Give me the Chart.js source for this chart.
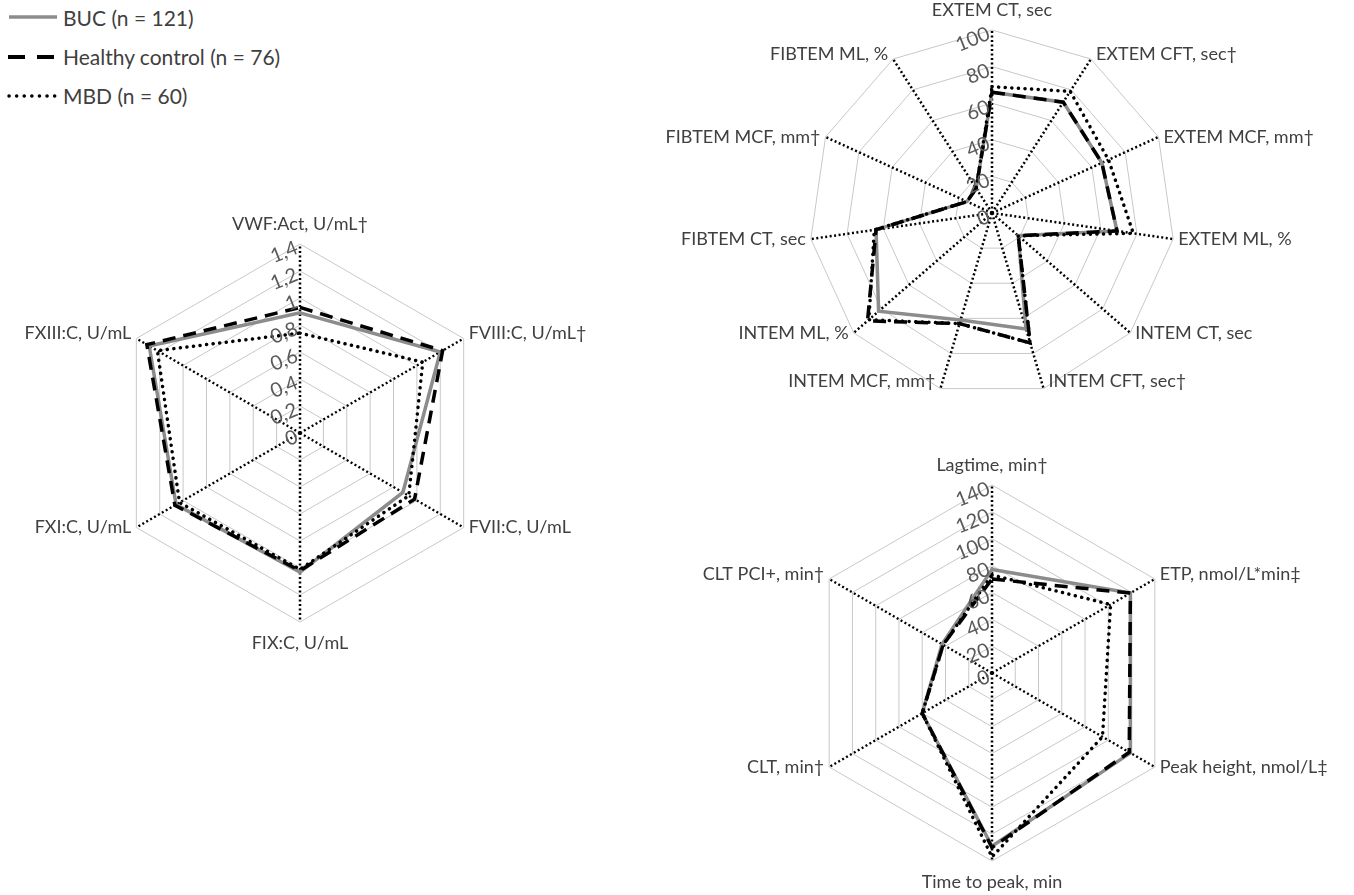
<!DOCTYPE html>
<html>
<head>
<meta charset="utf-8">
<script src="https://cdn.jsdelivr.net/npm/chart.js@4.4.1/dist/chart.umd.min.js"></script>
<style>
  html, body { margin: 0; padding: 0; background: #fff; }
  body { width: 1354px; height: 895px; position: relative; overflow: hidden; font-family: Lato, "Open Sans", sans-serif; }
  canvas { position: absolute; }
  .row { position: absolute; left: 0; height: 30px; white-space: nowrap; font-size: 21px; color: #404040; }
  .row svg { position: absolute; left: 0; top: 0; }
  .row span { position: absolute; left: 63px; top: 2px; }
</style>
</head>
<body>
<div class="row" style="top:3px">
  <svg width="60" height="30"><line x1="9" y1="14" x2="57" y2="14" stroke="#8c8c8c" stroke-width="3.5"/></svg>
  <span>BUC (n = 121)</span>
</div>
<div class="row" style="top:42px">
  <svg width="60" height="30"><line x1="8" y1="15" x2="57" y2="15" stroke="#000" stroke-width="4" stroke-dasharray="17 12"/></svg>
  <span>Healthy control (n = 76)</span>
</div>
<div class="row" style="top:81px">
  <svg width="60" height="30"><line x1="9" y1="15" x2="57" y2="15" stroke="#000" stroke-width="3.5" stroke-linecap="round" stroke-dasharray="0.1 7.5"/></svg>
  <span>MBD (n = 60)</span>
</div>

<canvas id="factorChart" width="620" height="620" style="left:0;top:140px"></canvas>
<canvas id="rotemChart" width="724" height="430" style="left:630px;top:0"></canvas>
<canvas id="tgChart" width="724" height="465" style="left:630px;top:430px"></canvas>

<script>
// coagulation factors
const factorLabels = ['VWF:Act, U/mL†', 'FVIII:C, U/mL†', 'FVII:C, U/mL', 'FIX:C, U/mL', 'FXI:C, U/mL', 'FXIII:C, U/mL'];
const factorBUC = [0.89, 1.20, 0.88, 1.03, 1.06, 1.29];
const factorHC = [0.93, 1.22, 0.98, 1.02, 1.07, 1.31];
const factorMBD = [0.74, 1.05, 0.93, 1.01, 1.03, 1.22];

// ROTEM
const rotemLabels = ['EXTEM CT, sec', 'EXTEM CFT, sec†', 'EXTEM MCF, mm†', 'EXTEM ML, %', 'INTEM CT, sec', 'INTEM CFT, sec†',
    'INTEM MCF, mm†', 'INTEM ML, %', 'FIBTEM CT, sec', 'FIBTEM MCF, mm†', 'FIBTEM ML, %'];
const rotemBUC = [66, 72, 66, 69, 19, 66, 61, 82, 64, 15, 16];
const rotemHC = [66, 72, 66, 69, 19, 74, 63, 90, 64, 15, 16];
const rotemMBD = [69, 79, 70, 78, 19, 74, 63, 89, 65, 15, 16];

// thrombin generation / clot lysis
const tgLabels = ['Lagtime, min†', 'ETP, nmol/L*min‡', 'Peak height, nmol/L‡', 'Time to peak, min', 'CLT, min†', 'CLT PCI+, min†'];
const tgBUC = [77, 119, 119, 129, 60, 43];
const tgHC = [70, 119, 118, 130, 60, 42];
const tgMBD = [73, 102, 95, 137, 60, 42];

const seriesNames = ['BUC (n = 121)', 'Healthy control (n = 76)', 'MBD (n = 60)'];

function makeDatasets(buc, hc, mbd) {
    return [
        { label: seriesNames[0], data: buc, borderColor: '#8c8c8c', borderWidth: 3.5, fill: false, order: 3 },
        { label: seriesNames[1], data: hc, borderColor: '#000', borderWidth: 3.5, borderDash: [13, 8], fill: false, order: 2 },
        { label: seriesNames[2], data: mbd, borderColor: '#000', borderWidth: 3.5, borderDash: [0.1, 6.5], borderCapStyle: 'round', fill: false, order: 1 }
    ];
}

// Excel-like labels: axis names outside, slanted tick numbers left of the top spoke
const excelLabels = {
    id: 'excelLabels',
    afterDraw(chart) {
        const s = chart.scales.r;
        const ctx = chart.ctx;
        ctx.save();
        ctx.fillStyle = '#404040';
        ctx.font = '18px Lato';
        ctx.textBaseline = 'middle';
        chart.data.labels.forEach((text, i) => {
            const a = s.getIndexAngle(i);
            const sin = Math.sin(a), cos = Math.cos(a);
            const p = s.getPointPosition(i, s.drawingArea);
            let x = p.x, y = p.y;
            if (Math.abs(sin) < 0.05) {
                ctx.textAlign = 'center';
                y += cos > 0 ? -20 : 21;
            } else {
                ctx.textAlign = sin > 0 ? 'left' : 'right';
                x += sin > 0 ? 5 : -5;
                if (cos > 0.45) y -= 5;
                if (cos < -0.9) y -= 7;
            }
            ctx.fillText(text, x, y);
        });
        ctx.fillStyle = '#595959';
        ctx.font = '20px Lato';
        ctx.textAlign = 'right';
        s.ticks.forEach(t => {
            const d = s.getDistanceFromCenterForValue(t.value);
            const txt = String(Math.round(t.value * 10) / 10).replace('.', ',');
            ctx.save();
            ctx.translate(s.xCenter - 3, s.yCenter - d + 3);
            ctx.rotate(-0.38);
            ctx.fillText(txt, 0, 0);
            ctx.restore();
        });
        ctx.restore();
    }
};

function radarOptions(max, step, pad) {
    return {
        responsive: false,
        animation: false,
        layout: { padding: pad },
        plugins: { legend: { display: false }, tooltip: { enabled: false } },
        elements: { point: { radius: 0 }, line: { tension: 0 } },
        scales: {
            r: {
                min: 0,
                max: max,
                ticks: { stepSize: step, display: false },
                pointLabels: { display: false },
                grid: { color: '#c8c8c8', lineWidth: 1 },
                angleLines: { color: '#000', lineWidth: 2.5, borderDash: [2, 2.5] }
            }
        }
    };
}

new Chart(document.getElementById('factorChart').getContext('2d'), {
    type: 'radar',
    data: { labels: factorLabels, datasets: makeDatasets(factorBUC, factorHC, factorMBD) },
    options: radarOptions(1.4, 0.2, { left: 111, right: 131, top: 104, bottom: 138 }),
    plugins: [excelLabels]
});

new Chart(document.getElementById('rotemChart').getContext('2d'), {
    type: 'radar',
    data: { labels: rotemLabels, datasets: makeDatasets(rotemBUC, rotemHC, rotemMBD) },
    options: radarOptions(100, 20, { left: 179, right: 179, top: 30, bottom: 34 }),
    plugins: [excelLabels]
});

new Chart(document.getElementById('tgChart').getContext('2d'), {
    type: 'radar',
    data: { labels: tgLabels, datasets: makeDatasets(tgBUC, tgHC, tgMBD) },
    options: radarOptions(140, 20, { left: 174, right: 174, top: 55, bottom: 34 }),
    plugins: [excelLabels]
});
</script>
</body>
</html>
